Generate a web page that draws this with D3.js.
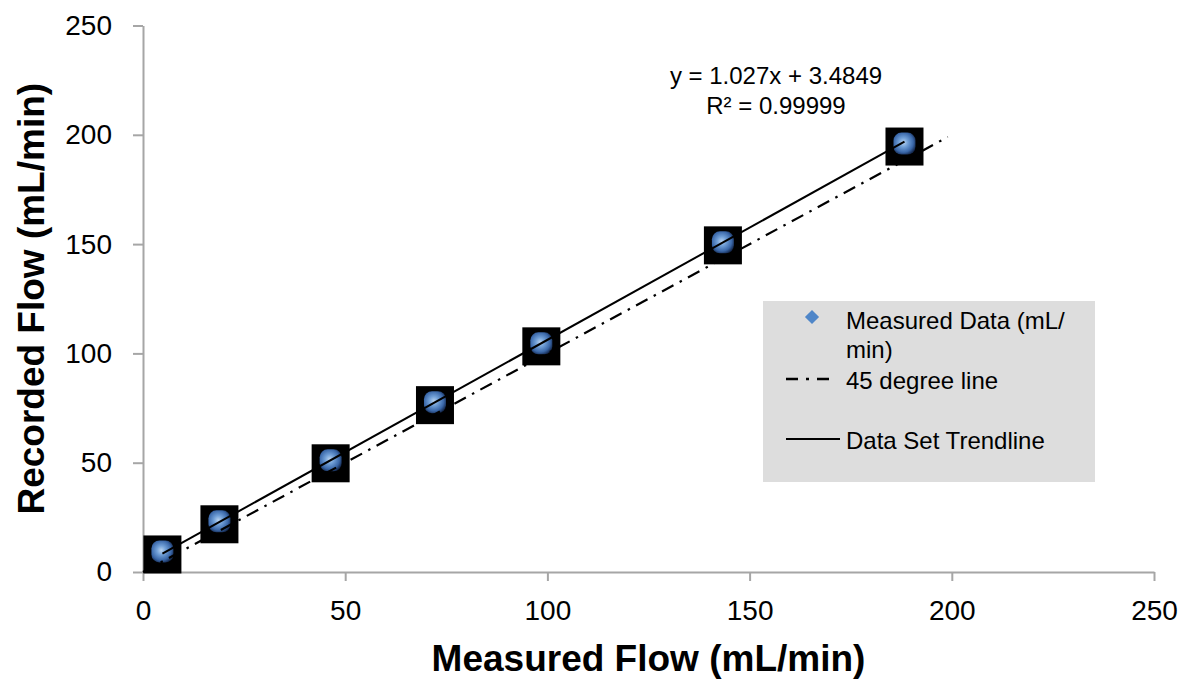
<!DOCTYPE html>
<html>
<head>
<meta charset="utf-8">
<script src="https://cdn.jsdelivr.net/npm/d3@7"></script>
<style>
  html, body { margin: 0; padding: 0; background: #fff; }
  svg { display: block; font-family: "Liberation Sans", Arial, sans-serif; }
</style>
</head>
<body>
<svg id="chart" width="1190" height="679"></svg>
<script>
// Flow calibration: measured vs recorded flow (mL/min)
const measuredFlow = [4.8, 18.9, 46.4, 72.2, 98.5, 143.4, 188.3];
const recordedFlow = [9.4, 23.2, 51.1, 77.7, 104.6, 150.8, 196.0];
const xTicks = [0, 50, 100, 150, 200, 250];
const yTicks = [0, 50, 100, 150, 200, 250];
const identityLine = [0, 199];           // 45 degree reference, y = x
const trendSlope = 1.027;
const trendIntercept = 3.4849;
const trendR2 = "0.99999";
const legendLabels = ["Measured Data (mL/", "min)", "45 degree line", "Data Set Trendline"];

const svg = d3.select("#chart");
const x = d3.scaleLinear().domain([0, 250]).range([143, 1154]);
const y = d3.scaleLinear().domain([0, 250]).range([572, 25.5]);

const axisColor = "#a6a6a6";

// X axis
const gx = svg.append("g").attr("transform", `translate(0,${y(0)})`)
  .call(d3.axisBottom(x).tickValues(xTicks).tickSize(9).tickSizeOuter(0).tickPadding(19));
// Y axis
const gy = svg.append("g").attr("transform", `translate(${x(0)},0)`)
  .call(d3.axisLeft(y).tickValues(yTicks).tickSize(10).tickSizeOuter(0).tickPadding(21));

[gx, gy].forEach(g => {
  g.select(".domain").attr("stroke", axisColor).attr("stroke-width", 2);
  g.selectAll(".tick line").attr("stroke", axisColor).attr("stroke-width", 2);
  g.selectAll(".tick text").attr("fill", "#000").style("font-size", "28px")
    .style("font-family", "'Liberation Sans', Arial, sans-serif");
});

// Axis titles
svg.append("text").attr("x", (x(0) + x(250)) / 2).attr("y", 671)
  .attr("text-anchor", "middle").style("font-size", "37px").style("font-weight", "bold")
  .text("Measured Flow (mL/min)");
svg.append("text").attr("transform", `translate(44,${(y(0) + y(250)) / 2}) rotate(-90)`)
  .attr("text-anchor", "middle").style("font-size", "37px").style("font-weight", "bold")
  .text("Recorded Flow (mL/min)");

// Marker fill
const defs = svg.append("defs");
const grad = defs.append("radialGradient").attr("id", "markerFill")
  .attr("cx", "45%").attr("cy", "45%").attr("r", "60%");
grad.append("stop").attr("offset", "0%").attr("stop-color", "#b9d3f0");
grad.append("stop").attr("offset", "35%").attr("stop-color", "#6f9ed6");
grad.append("stop").attr("offset", "75%").attr("stop-color", "#3a67a8");
grad.append("stop").attr("offset", "100%").attr("stop-color", "#14284d");

const points = measuredFlow.map((m, i) => ({ m, r: recordedFlow[i] }));

// Data markers
const mk = svg.append("g").selectAll("g").data(points).join("g")
  .attr("transform", d => `translate(${x(d.m)},${y(d.r)})`);
mk.append("rect").attr("x", -19).attr("y", -16).attr("width", 38).attr("height", 38).attr("fill", "#000");
mk.append("rect").attr("x", -11).attr("y", -11).attr("width", 22).attr("height", 22)
  .attr("rx", 8).attr("fill", "url(#markerFill)");

// 45 degree line
svg.append("line")
  .attr("x1", x(identityLine[0])).attr("y1", y(identityLine[0]))
  .attr("x2", x(identityLine[1])).attr("y2", y(identityLine[1]))
  .attr("stroke", "#000").attr("stroke-width", 2.2).attr("stroke-dasharray", "13,7,2.5,7");

// Linear trendline across the data range
const xMin = d3.min(measuredFlow), xMax = d3.max(measuredFlow);
svg.append("line")
  .attr("x1", x(xMin)).attr("y1", y(trendSlope * xMin + trendIntercept))
  .attr("x2", x(xMax)).attr("y2", y(trendSlope * xMax + trendIntercept))
  .attr("stroke", "#000").attr("stroke-width", 2);

// Trendline equation
const eq = svg.append("text").attr("text-anchor", "middle").style("font-size", "24px");
eq.append("tspan").attr("x", 776).attr("y", 84)
  .text(`y = ${trendSlope}x + ${trendIntercept}`);
eq.append("tspan").attr("x", 776).attr("y", 114)
  .text(`R² = ${trendR2}`);

// Legend
const lg = svg.append("g");
lg.append("rect").attr("x", 763).attr("y", 301).attr("width", 332).attr("height", 181).attr("fill", "#dddddd");
lg.append("path").attr("d", d3.symbol().type(d3.symbolSquare).size(100)())
  .attr("transform", "translate(812,317) rotate(45)").attr("fill", "#4f86c8");
lg.append("line").attr("x1", 786).attr("x2", 831).attr("y1", 379).attr("y2", 379)
  .attr("stroke", "#000").attr("stroke-width", 2.5).attr("stroke-dasharray", "12,8,3,8");
lg.append("line").attr("x1", 786).attr("x2", 840).attr("y1", 439).attr("y2", 439)
  .attr("stroke", "#000").attr("stroke-width", 2);
const lgY = [329, 358, 389, 449];
lg.selectAll("text.lbl").data(legendLabels).join("text").attr("class", "lbl")
  .attr("x", 846).attr("y", (d, i) => lgY[i]).style("font-size", "24px").text(d => d);
</script>
</body>
</html>
